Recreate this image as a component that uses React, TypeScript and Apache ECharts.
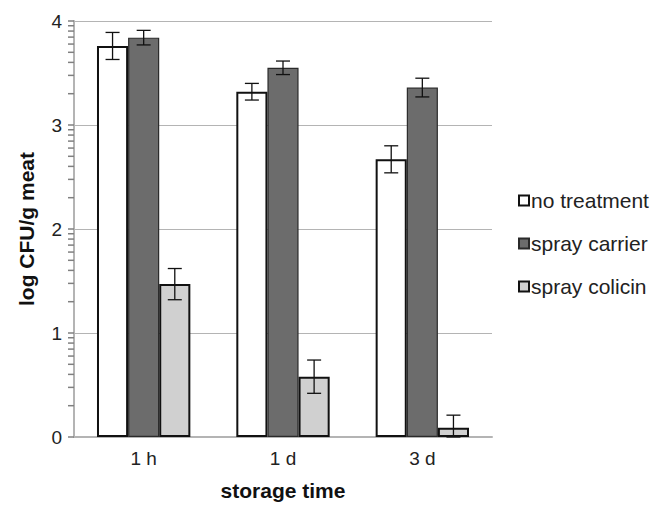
import React, { useEffect, useRef } from "react";
import * as echarts from "echarts";

const categories = ["1 h", "1 d", "3 d"];
const seriesNames = ["no treatment", "spray carrier", "spray colicin"];
const noTreatment = [3.76, 3.32, 2.67];
const sprayCarrier = [3.84, 3.55, 3.36];
const sprayColicin = [1.47, 0.58, 0.09];
const errNoTreatment = [0.13, 0.08, 0.13];
const errSprayCarrier = [0.07, 0.065, 0.09];
const errSprayColicin = [0.15, 0.16, 0.12];
const yMajorTicks = [0, 1, 2, 3, 4];
const minorMultipliers = [2, 3, 4, 5, 6, 7, 8, 9];

const fills = ["#ffffff", "#6c6c6c", "#d0d0d0"];
const borders = ["#111111", "#2a2a2a", "#111111"];

export default function App() {
  const ref = useRef<HTMLDivElement>(null);
  useEffect(() => {
    document.body.style.margin = "0";
    if (!ref.current) return;
    const chart = echarts.init(ref.current, null, { renderer: "svg" });
    const values = [noTreatment, sprayCarrier, sprayColicin];
    const errs = [errNoTreatment, errSprayCarrier, errSprayColicin];
    const tickValues: number[] = [];
    yMajorTicks.forEach((k) => {
      tickValues.push(k);
      if (k < 4) minorMultipliers.forEach((m) => tickValues.push(k + Math.log10(m)));
    });
    const gapFrac = 0.33;
    const barSeries = values.map((v, i) => ({
      name: seriesNames[i],
      type: "bar",
      data: v,
      barGap: "0%",
      barCategoryGap: "33%",
      itemStyle: { color: fills[i], borderColor: borders[i], borderWidth: i === 1 ? 1.2 : 2 },
      z: 2,
    }));
    const errSeries = values.map((v, i) => ({
      name: "err" + i,
      type: "custom",
      z: 5,
      data: v.map((val, j) => [j, Math.max(0, val - errs[i][j]), val + errs[i][j]]),
      renderItem: (params: any, api: any) => {
        const cat = api.value(0);
        const lo = api.coord([cat, api.value(1)]);
        const hi = api.coord([cat, api.value(2)]);
        const band = api.size([1, 0])[0];
        const bw = (band * (1 - gapFrac)) / 3;
        const x = lo[0] + (i - 1) * bw;
        const cap = 7;
        const style = { stroke: "#111", lineWidth: 1.3 };
        return {
          type: "group",
          children: [
            { type: "line", shape: { x1: x, y1: lo[1], x2: x, y2: hi[1] }, style },
            { type: "line", shape: { x1: x - cap, y1: lo[1], x2: x + cap, y2: lo[1] }, style },
            { type: "line", shape: { x1: x - cap, y1: hi[1], x2: x + cap, y2: hi[1] }, style },
          ],
        };
      },
    }));
    const tickSeries = {
      name: "yticks",
      type: "custom",
      z: 6,
      clip: false,
      silent: true,
      data: tickValues.map((t) => [0, t]),
      renderItem: (params: any, api: any) => {
        const p = api.coord([0, api.value(1)]);
        const band = api.size([1, 0])[0];
        const x0 = p[0] - band / 2;
        return {
          type: "line",
          shape: { x1: x0 - 6, y1: p[1], x2: x0, y2: p[1] },
          style: { stroke: "#808080", lineWidth: 1.5 },
        };
      },
    };
    const font = "Liberation Sans";
    chart.setOption({
      animation: false,
      grid: { left: 74, right: 164, top: 21, bottom: 62 },
      legend: {
        data: seriesNames,
        orient: "vertical",
        left: 513,
        top: 185,
        icon: "rect",
        itemWidth: 10,
        itemHeight: 10,
        itemGap: 22,
        textStyle: { fontFamily: font, fontSize: 21, color: "#222", padding: [0, 0, 0, -3] },
      },
      xAxis: {
        type: "category",
        data: categories,
        name: "storage time",
        nameLocation: "middle",
        nameGap: 43,
        nameTextStyle: { fontFamily: font, fontSize: 21, fontWeight: "bold", color: "#111" },
        axisLine: { lineStyle: { color: "#b4b4b4", width: 2 } },
        axisTick: { show: false },
        axisLabel: { fontFamily: font, fontSize: 19, color: "#222", margin: 12 },
      },
      yAxis: {
        type: "value",
        min: 0,
        max: 4,
        interval: 1,
        name: "log CFU/g meat",
        nameLocation: "middle",
        nameGap: 37,
        nameTextStyle: { fontFamily: font, fontSize: 21, fontWeight: "bold", color: "#111" },
        axisLine: { show: true, lineStyle: { color: "#b4b4b4", width: 2 } },
        axisTick: { show: false },
        axisLabel: { fontFamily: font, fontSize: 19, color: "#222", margin: 12 },
        splitLine: { show: true, lineStyle: { color: "#b4b4b4", width: 1.2 } },
      },
      series: [...barSeries, ...errSeries, tickSeries],
    });
    return () => chart.dispose();
  }, []);
  return <div ref={ref} style={{ width: 656, height: 506 }} />;
}
